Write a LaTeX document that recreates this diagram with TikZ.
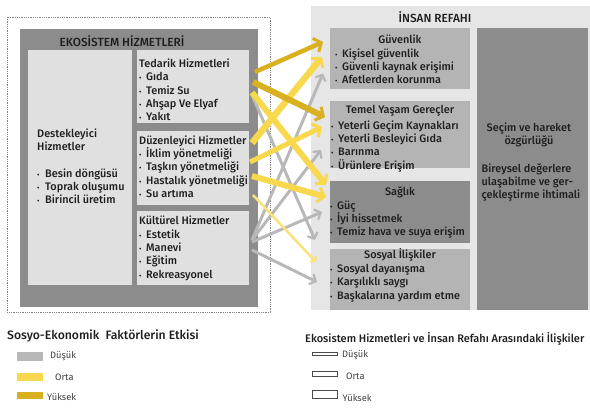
\documentclass[tikz,border=0pt]{standalone}
\usepackage{fontspec}
\setmainfont{Fira Sans Medium}
\newfontfamily\inceyazi{Fira Sans}
\usetikzlibrary{calc, arrows.meta}

\definecolor{koyugri}{HTML}{8C8C8C}
\definecolor{acikgri}{HTML}{E0E0E0}
\definecolor{ortagri}{HTML}{B4B4B4}
\definecolor{zemingri}{HTML}{E6E6E6}
\definecolor{dusukrenk}{HTML}{B8B8B8}
\definecolor{ortarenk}{HTML}{F8D84C}
\definecolor{yuksekrenk}{HTML}{D8B020}
\definecolor{yazirenk}{HTML}{1E1E1E}

\newcommand{\mad}{\makebox[7pt][l]{\scriptsize\textbullet}}
\newcommand{\ilk}{\rule{0pt}{11pt}}

\begin{document}
\begin{tikzpicture}[
  x=1pt, y=-1pt,
  kutu/.style={anchor=north west, inner sep=0pt, outer sep=0pt},
  yazi/.style={inner sep=0pt, text=yazirenk, font=\fontsize{10.9}{13.3}\selectfont, align=left},
  baslik/.style={yazi, font=\fontsize{11.8}{14}\selectfont, anchor=base},
  kucuk/.style={inner sep=0pt, text=yazirenk!85, font=\inceyazi\fontsize{9.3}{10}\selectfont, anchor=base west},
  dusuk/.style={draw=dusukrenk, line width=3pt, -{Straight Barb[line width=2.2pt, length=5pt, width=11pt]}},
  orta/.style={draw=ortarenk, line width=6pt, -{Straight Barb[line width=3pt, length=6pt, width=15pt]}},
  yuksek/.style={draw=yuksekrenk, line width=5pt, -{Straight Barb[line width=3pt, length=6pt, width=15pt]}},
]
\useasboundingbox (0,0) rectangle (590,409);

% ekosistem tarafi
\draw[densely dotted, gray, line width=0.8pt] (7,17) rectangle (270,312);
\node[kutu, fill=koyugri, minimum width=238pt, minimum height=278pt] (eko) at (20,29) {};
\node[baslik] (ekoBaslik) at (122,46.5) {EKOSİSTEM HİZMETLERİ};

\node[kutu, fill=acikgri, minimum width=104pt, minimum height=235pt] (destek) at (28,50) {};
\node[kutu, fill=acikgri, minimum width=112pt, minimum height=73pt] (tedarik) at (137,50) {};
\node[kutu, fill=acikgri, minimum width=112pt, minimum height=74pt] (duzen) at (137,131) {};
\node[kutu, fill=acikgri, minimum width=112pt, minimum height=74pt] (kultur) at (137,211) {};

\node[yazi, anchor=north west] (destekYazi) at (37,126)
  {\ilk Destekleyici\\Hizmetler\\[13.3pt]\makebox[8pt][l]{\scriptsize\textbullet}Besin döngüsü\\
   \makebox[8pt][l]{\scriptsize\textbullet}Toprak oluşumu\\\makebox[8pt][l]{\scriptsize\textbullet}Birincil üretim};
\node[yazi, anchor=north west] (tedarikYazi) at (139,56.3)
  {\ilk Tedarik Hizmetleri\\\mad Gıda\\\mad Temiz Su\\\mad Ahşap Ve Elyaf\\\mad Yakıt};
\node[yazi, anchor=north west] (duzenYazi) at (139,133)
  {\ilk Düzenleyici Hizmetler\\\mad İklim yönetmeliği\\\mad Taşkın yönetmeliği\\\mad Hastalık yönetmeliği\\\mad Su artıma};
\node[yazi, anchor=north west] (kulturYazi) at (139,213.7)
  {\ilk Kültürel Hizmetler\\\mad Estetik\\\mad Manevi\\\mad Eğitim\\\mad Rekreasyonel};

% insan refahi tarafi
\node[kutu, fill=zemingri, minimum width=279pt, minimum height=304pt] (insan) at (311,6) {};
\node[baslik] (insanBaslik) at (435,22.5) {İNSAN REFAHI};

\node[kutu, fill=ortagri, minimum width=140pt, minimum height=61pt] (guven) at (330,28) {};
\node[kutu, fill=ortagri, minimum width=140pt, minimum height=67pt] (temel) at (330,101) {};
\node[kutu, fill=koyugri, minimum width=140pt, minimum height=62pt] (saglik) at (330,181) {};
\node[kutu, fill=ortagri, minimum width=140pt, minimum height=61pt] (sosyal) at (330,249) {};
\node[kutu, fill=koyugri, minimum width=111pt, minimum height=282pt] (secim) at (477,28) {};

\node[yazi, anchor=base] (guvenBaslik) at (400,44) {Güvenlik};
\node[yazi, anchor=north west] (guvenMad) at (335,46)
  {\ilk\mad Kişisel güvenlik\\\mad Güvenli kaynak erişimi\\\mad Afetlerden korunma};
\node[yazi, anchor=base] (temelBaslik) at (400,114) {Temel Yaşam Gereçler};
\node[yazi, anchor=north west] (temelMad) at (331,118)
  {\ilk\mad Yeterli Geçim Kaynakları\\\mad Yeterli Besleyici Gıda\\\mad Barınma\\\mad Ürünlere Erişim};
\node[yazi, anchor=base] (saglikBaslik) at (400,196) {Sağlık};
\node[yazi, anchor=north west] (saglikMad) at (330,198)
  {\ilk\mad Güç\\\mad İyi hissetmek\\\mad Temiz hava ve suya erişim};
\node[yazi, anchor=base] (sosyalBaslik) at (400,259) {Sosyal İlişkiler};
\node[yazi, anchor=north west] (sosyalMad) at (330,261.3)
  {\ilk\mad Sosyal dayanışma\\\mad Karşılıklı saygı\\\mad Başkalarına yardım etme};

\node[yazi, align=center, anchor=north] (secimYazi) at (529,120.5) {\ilk Seçim ve hareket\\özgürlüğü};
\node[yazi, anchor=north west] (bireyYazi) at (481.5,161)
  {\ilk Bireysel değerlere\\ulaşabilme ve ger-\\çekleştirme ihtimali};

% oklar: dusuk
\draw[dusuk] ($(tedarik.east)+(3,8.5)$) -- ($(saglik.west)+(-15,28)$);
\draw[dusuk] ($(kultur.east)+(3,-8)$) -- ($(guven.west)+(-7,15)$);
\draw[dusuk] ($(kultur.east)+(3,-8)$) -- ($(temel.west)+(-9,15.5)$);
\draw[dusuk] ($(kultur.east)+(3,-6)$) -- ($(saglik.west)+(-8,0)$);
\draw[dusuk] ($(kultur.east)+(3,2)$) -- ($(sosyal.west)+(-13,2.5)$);

% oklar: orta
\draw[orta, draw=ortarenk!75, line width=2.5pt,
  -{Straight Barb[line width=2pt, length=3pt, width=8pt]}]
  ($(duzen.east)+(4,27)$) -- ($(sosyal.west)+(-14,-17.5)$);
\draw[orta] ($(tedarik.east)+(3,6)$) -- ($(saglik.west)+(-4,-27)$);
\draw[orta, line width=6.5pt] ($(duzen.east)+(3,-25)$) -- ($(guven.west)+(-8,-1.5)$);
\draw[orta, line width=5pt] ($(duzen.east)+(1,-6)$) -- ($(temel.west)+(-8,-7.5)$);
\draw[orta] ($(duzen.east)+(3,8)$) -- ($(saglik.west)+(-4,-15)$);

% oklar: yuksek
\draw[yuksek, line width=4.5pt] ($(tedarik.east)+(6,-14.5)$) -- ($(guven.west)+(-7,-16.5)$);
\draw[yuksek, line width=6pt] ($(tedarik.east)+(4,-4.5)$) -- ($(temel.west)+(-5,-17.5)$);

% lejant: sosyo-ekonomik faktorler
\node[yazi, font=\fontsize{12.2}{14}\selectfont, anchor=base west] (lejantSol) at (7,339.5)
  {Sosyo-Ekonomik\enspace Faktörlerin Etkisi};
\node[kutu, fill=dusukrenk, minimum width=26pt, minimum height=8pt] (lsDusuk) at (17,352.5) {};
\node[kutu, fill=ortarenk, minimum width=26pt, minimum height=8pt] (lsOrta) at (17,373) {};
\node[kutu, fill=yuksekrenk, minimum width=26pt, minimum height=7pt] (lsYuksek) at (17,392) {};
\node[kucuk] (lsDusukYazi) at (50,358.5) {Düşük};
\node[kucuk] (lsOrtaYazi) at (55,381) {Orta};
\node[kucuk] (lsYuksekYazi) at (47,400.5) {Yüksek};

% lejant: iliskiler
\node[yazi, font=\fontsize{11}{13}\selectfont, anchor=base west] (lejantSag) at (305,342)
  {Ekosistem Hizmetleri ve İnsan Refahı Arasındaki İlişkiler};
\draw[yazirenk!80, line width=0.8pt, fill=white] (312,352) rectangle (337,355);
\draw[yazirenk!80, line width=0.8pt, fill=white] (312,371.5) rectangle (337,376);
\draw[yazirenk!80, line width=0.8pt, fill=white] (312,390) rectangle (337,398);
\node[kucuk] (lrDusukYazi) at (342,357) {Düşük};
\node[kucuk] (lrOrtaYazi) at (346,380) {Orta};
\node[kucuk] (lrYuksekYazi) at (342.5,402) {Yüksek};

\end{tikzpicture}
\end{document}
